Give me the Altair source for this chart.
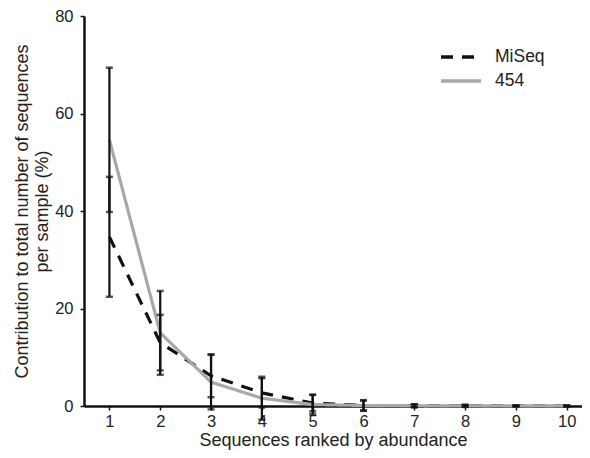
import altair as alt
import pandas as pd

ranks = [1, 2, 3, 4, 5, 6, 7, 8, 9, 10]
miseq_mean = [34.7, 13.0, 6.2, 2.7, 0.6, 0.1, 0.05, 0.03, 0.02, 0.02]
miseq_err = [12.3, 5.7, 4.4, 3.0, 1.7, 1.1, 0.3, 0.2, 0.1, 0.1]
s454_mean = [54.6, 15.0, 4.9, 1.6, 0.3, 0.1, 0.05, 0.03, 0.02, 0.01]
s454_err = [14.8, 8.6, 5.6, 4.4, 2.0, 1.0, 0.3, 0.2, 0.1, 0.1]
series_names = ["MiSeq", "454"]

rows = []
for name, means, errs in [("MiSeq", miseq_mean, miseq_err), ("454", s454_mean, s454_err)]:
    for r, m, e in zip(ranks, means, errs):
        rows.append({"rank": r, "series": name, "mean": m, "lo": m - e, "hi": m + e})
df = pd.DataFrame(rows)

FONT = "Liberation Sans"

x = alt.X("rank:Q", scale=alt.Scale(domain=[0.5, 10.3], nice=False, zero=False),
          axis=alt.Axis(values=ranks, title="Sequences ranked by abundance", grid=False,
                        domainColor="#111", domainWidth=2.5, tickColor="#111", tickSize=4,
                        tickWidth=1.5, labelFontSize=16.5, labelColor="#222", labelPadding=3,
                        titleFontSize=18, titleFont=FONT, labelFont=FONT, titleColor="#222",
                        titlePadding=2, titleFontWeight="normal"))
y = alt.Y("mean:Q", scale=alt.Scale(domain=[0, 80], nice=False),
          axis=alt.Axis(values=[0, 20, 40, 60, 80],
                        title=["Contribution to total number of sequences", "per sample (%)"],
                        grid=False, domainColor="#111", domainWidth=2.5, tickColor="#111",
                        tickSize=4, tickWidth=1.5, labelFontSize=16.5, labelColor="#222",
                        labelPadding=7, titleFontSize=18, titleFont=FONT, labelFont=FONT,
                        titleColor="#222", titlePadding=3, titleFontWeight="normal"))

base = alt.Chart(df)

bars = base.mark_rule(color="#111", strokeWidth=2.2).encode(
    x=alt.X("rank:Q"), y=alt.Y("lo:Q"), y2="hi:Q")
caps_hi = base.mark_tick(color="#111", orient="horizontal", size=7, thickness=2.5).encode(
    x=alt.X("rank:Q"), y=alt.Y("hi:Q"))
caps_lo = base.mark_tick(color="#111", orient="horizontal", size=7, thickness=2.5).encode(
    x=alt.X("rank:Q"), y=alt.Y("lo:Q"))

lines = base.mark_line(strokeWidth=3.2).encode(
    x=x, y=y,
    color=alt.Color("series:N", scale=alt.Scale(domain=series_names, range=["#111111", "#a8a8a8"]),
                    legend=alt.Legend(title=None, orient="none", legendX=365, legendY=29,
                                      symbolType="M-2,0H2", symbolSize=400, symbolStrokeWidth=3.5,
                                      labelFontSize=17.5, labelFont=FONT, labelColor="#222",
                                      labelOffset=22, rowPadding=3)),
    strokeDash=alt.StrokeDash("series:N", scale=alt.Scale(domain=series_names, range=[[12, 9], [1, 0]]),
                              legend=None),
    order=alt.Order("rank:Q"),
)

chart = alt.layer(lines, bars, caps_hi, caps_lo).properties(
    width=498, height=390,
    autosize=alt.AutoSizeParams(type="none"),
    padding={"left": 76, "top": 8, "right": 0, "bottom": 44},
).configure_view(stroke=None)

chart.save("out.html", embed_options={"renderer": "svg", "actions": False})
